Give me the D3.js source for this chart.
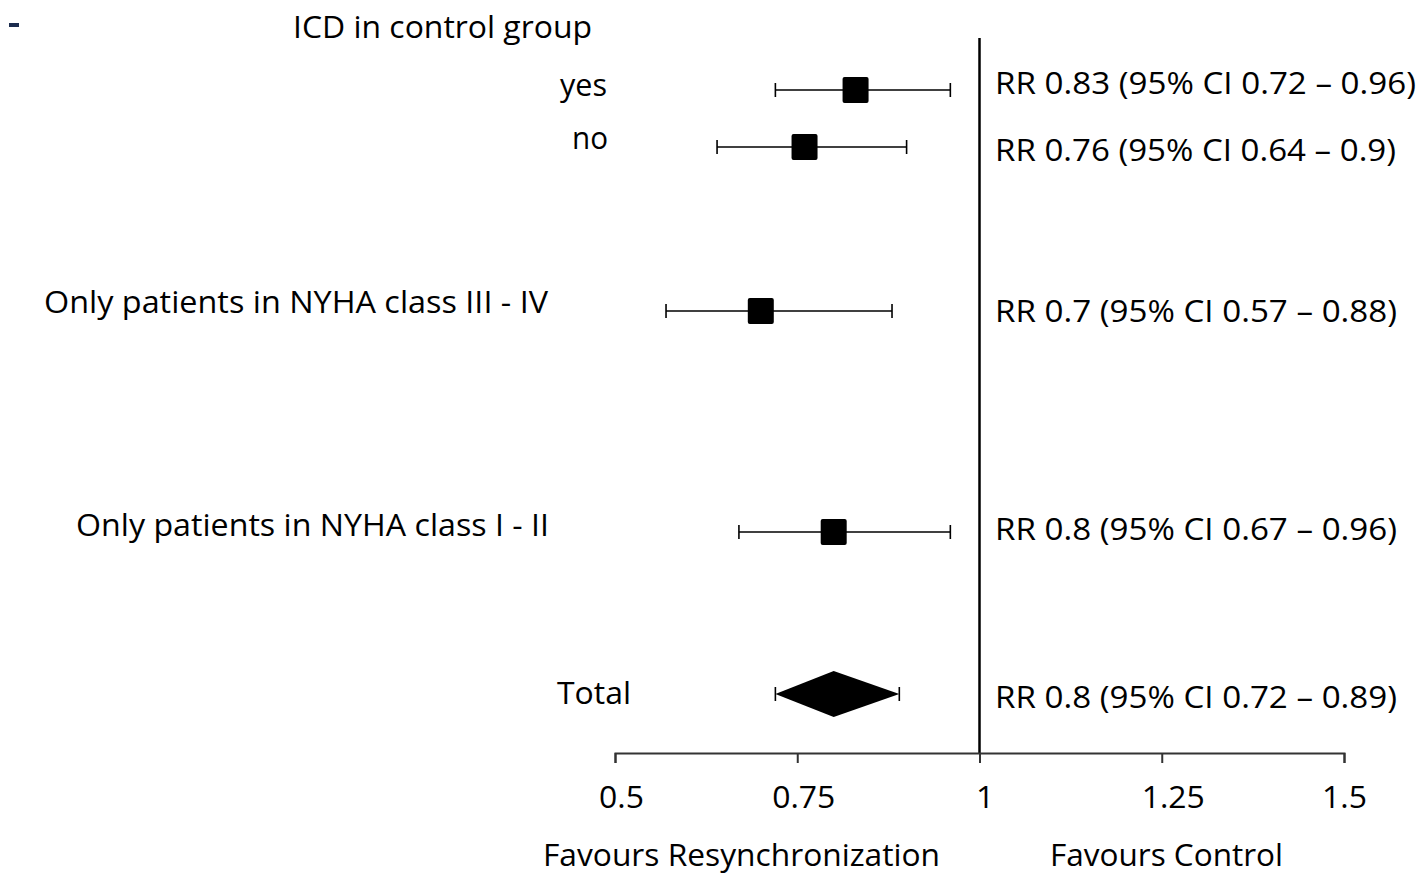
<!DOCTYPE html>
<html>
<head>
<meta charset="utf-8">
<script src="https://cdn.jsdelivr.net/npm/d3@7"></script>
<style>
  html, body { margin: 0; padding: 0; background: #fff; }
  svg { display: block; }
  text { font-family: "Open Sans", "Noto Sans", sans-serif; fill: #000; }
</style>
</head>
<body>
<svg id="chart" width="1419" height="877"></svg>
<script>
// ---- data ----
const groupHeader = "ICD in control group";
const categories = ["yes", "no", "Only patients in NYHA class III - IV", "Only patients in NYHA class I - II", "Total"];
const rr = [0.83, 0.76, 0.7, 0.8, 0.8];
const ciLow = [0.72, 0.64, 0.57, 0.67, 0.72];
const ciHigh = [0.96, 0.9, 0.88, 0.96, 0.89];
const isTotal = [false, false, false, false, true];
const rrLabels = [
  "RR 0.83 (95% CI 0.72 \u2013 0.96)",
  "RR 0.76 (95% CI 0.64 \u2013 0.9)",
  "RR 0.7 (95% CI 0.57 \u2013 0.88)",
  "RR 0.8 (95% CI 0.67 \u2013 0.96)",
  "RR 0.8 (95% CI 0.72 \u2013 0.89)"
];
const tickValues = [0.5, 0.75, 1, 1.25, 1.5];
const tickLabels = ["0.5", "0.75", "1", "1.25", "1.5"];
const favourLeft = "Favours Resynchronization";
const favourRight = "Favours Control";
const refValue = 1;

// ---- layout ----
const FONT = 31;
const axisY = 753;
const x = d3.scaleLinear().domain([0.5, 1.5]).range([615, 1344]);
const rowY = d3.scaleOrdinal().domain(categories).range([90, 147, 311, 532, 694]);
const labelRight = d3.scaleOrdinal().domain(categories).range([607, 608, 548, 549, 631]);
const labelWidth = d3.scaleOrdinal().domain(categories).range([47, 36, 504, 473, 74]);
const labelBase = d3.scaleOrdinal().domain(categories).range([96, 149, 313, 536, 704]);
const rrBase = d3.scaleOrdinal().domain(categories).range([94, 161, 322, 540, 708]);
const rrWidth = d3.scaleOrdinal().domain(categories).range([421, 401, 402, 402, 402]);
const tickDx = [6, 6, 5, 11, 0];
const rrLeft = 995;
const sq = 26, capH = 14, diaH = 23;

const svg = d3.select("#chart");

// width-fit factor (Calibri-like narrowness)
const probe = svg.append("text").attr("font-size", FONT).text(groupHeader);
const k = 299 / probe.node().getComputedTextLength();
probe.remove();

function fitText(sel, anchor, xPos, target) {
  sel.each(function () {
    const t = d3.select(this);
    const w = target != null ? target : this.getComputedTextLength() * k;
    t.attr("textLength", w).attr("lengthAdjust", "spacingAndGlyphs");
    let x0 = xPos;
    if (anchor === "end") x0 = xPos - w;
    else if (anchor === "middle") x0 = xPos - w / 2;
    t.attr("x", x0).attr("text-anchor", "start");
  });
}

// top-left bullet dash
svg.append("rect").attr("x", 9).attr("y", 23).attr("width", 10).attr("height", 4).attr("fill", "#1b2c4e");

// header
svg.append("text").attr("font-size", FONT).attr("y", 38).text(groupHeader).call(fitText, "start", 293, 299);

// reference line
svg.append("line")
  .attr("x1", x(refValue)).attr("x2", x(refValue))
  .attr("y1", 38).attr("y2", axisY)
  .attr("stroke", "#000").attr("stroke-width", 2.5);

// axis
const axis = d3.axisBottom(x).tickValues(tickValues).tickFormat((d, i) => tickLabels[i]).tickSizeOuter(0).tickSize(10);
const gAxis = svg.append("g").attr("transform", `translate(0,${axisY})`).call(axis);
gAxis.select(".domain").attr("stroke", "#333").attr("stroke-width", 2);
gAxis.selectAll(".tick line").attr("stroke", "#333").attr("stroke-width", 2);
gAxis.selectAll(".tick text")
  .attr("font-size", FONT).attr("font-family", "Open Sans").attr("fill", "#000")
  .attr("y", 55).attr("dy", 0)
  .each(function (d, i) {
    const t = d3.select(this);
    const w = this.getComputedTextLength() * k;
    t.attr("textLength", w).attr("lengthAdjust", "spacingAndGlyphs")
     .attr("text-anchor", "start").attr("x", tickDx[i] - w / 2);
  });

// rows
const rows = categories.map((c, i) => ({ c, rr: rr[i], lo: ciLow[i], hi: ciHigh[i], total: isTotal[i], lab: rrLabels[i] }));
const g = svg.append("g");

rows.forEach(d => {
  const y = rowY(d.c);
  if (!d.total) {
    g.append("line").attr("x1", x(d.lo)).attr("x2", x(d.hi)).attr("y1", y).attr("y2", y)
      .attr("stroke", "#000").attr("stroke-width", 1.6);
    [d.lo, d.hi].forEach(v => g.append("line").attr("x1", x(v)).attr("x2", x(v))
      .attr("y1", y - capH / 2).attr("y2", y + capH / 2).attr("stroke", "#000").attr("stroke-width", 1.6));
    g.append("rect").attr("x", x(d.rr) - sq / 2).attr("y", y - sq / 2)
      .attr("width", sq).attr("height", sq).attr("rx", 2).attr("fill", "#000");
  } else {
    g.append("path")
      .attr("d", `M${x(d.lo)},${y} L${x(d.rr)},${y - diaH} L${x(d.hi)},${y} L${x(d.rr)},${y + diaH} Z`)
      .attr("fill", "#000");
    [d.lo, d.hi].forEach(v => g.append("line").attr("x1", x(v)).attr("x2", x(v))
      .attr("y1", y - capH / 2).attr("y2", y + capH / 2).attr("stroke", "#000").attr("stroke-width", 1.6));
  }
  g.append("text").attr("font-size", FONT).attr("y", labelBase(d.c)).text(d.c)
    .call(fitText, "end", labelRight(d.c), labelWidth(d.c));
  g.append("text").attr("font-size", FONT).attr("y", rrBase(d.c)).text(d.lab)
    .call(fitText, "start", rrLeft, rrWidth(d.c));
});

// favours labels
svg.append("text").attr("font-size", FONT).attr("y", 866).text(favourLeft).call(fitText, "start", 543, 397);
svg.append("text").attr("font-size", FONT).attr("y", 866).text(favourRight).call(fitText, "start", 1050, 233);
</script>
</body>
</html>
